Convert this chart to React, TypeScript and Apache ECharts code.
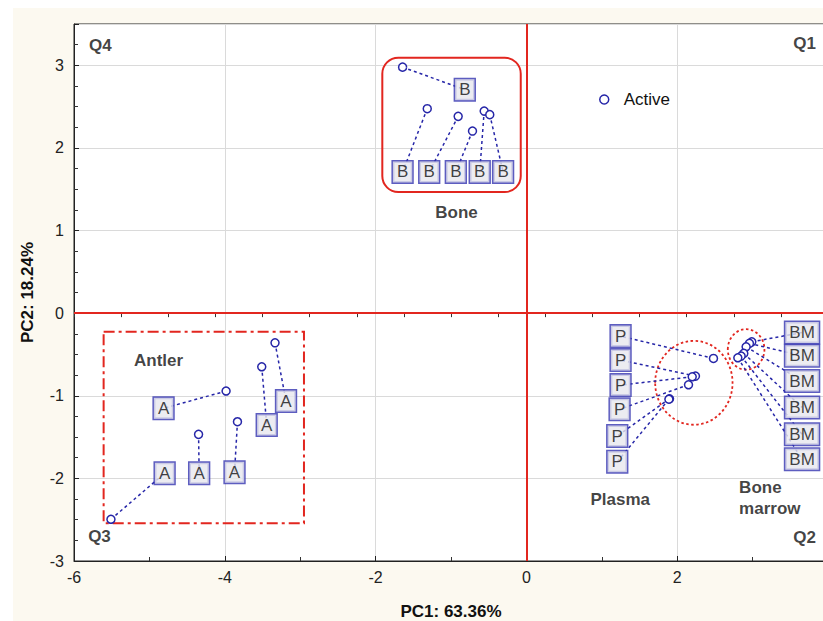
import React, { useEffect, useRef } from "react";
import * as echarts from "echarts";

// ---- Data ----
const bonePoints = [[-1.642, 2.978], [-1.315, 2.475], [-0.905, 2.382], [-0.715, 2.204], [-0.56, 2.446], [-0.486, 2.403]];
const boneLabelPos = [[-0.817, 2.705], [-1.642, 1.709], [-1.289, 1.709], [-0.936, 1.709], [-0.619, 1.709], [-0.309, 1.709]];

const antlerPoints = [[-3.334, -0.359], [-3.51, -0.649], [-3.983, -0.943], [-3.832, -1.314], [-4.348, -1.467], [-5.51, -2.495]];
const antlerLabelPos = [[-3.188, -1.064], [-3.444, -1.354], [-4.812, -1.152], [-3.871, -1.926], [-4.34, -1.938], [-4.798, -1.938]];

const plasmaPoints = [[2.481, -0.548], [2.242, -0.762], [2.199, -0.77], [2.15, -0.867], [1.898, -1.036], [1.89, -1.042]];
const plasmaLabelPos = [[1.249, -0.278], [1.249, -0.568], [1.249, -0.871], [1.236, -1.164], [1.205, -1.487], [1.205, -1.798]];

const marrowPoints = [[2.989, -0.347], [2.958, -0.366], [2.914, -0.407], [2.883, -0.487], [2.848, -0.52], [2.804, -0.54]];
const marrowLabelPos = [[3.656, -0.235], [3.656, -0.517], [3.656, -0.822], [3.656, -1.141], [3.656, -1.467], [3.656, -1.769]];

// region outlines: [xMin, xMax, yMin, yMax]
const boneRegion = [-1.911, -0.075, 1.466, 3.092];
const antlerRegion = [-5.607, -2.95, -2.543, -0.226];
// ellipses: [cx, cy, rx, ry]
const plasmaEllipse = [2.221, -0.843, 0.513, 0.508];
const marrowEllipse = [2.914, -0.439, 0.243, 0.245];

// text annotations: [x, y, text, align]
const annotations: [number, number, string, string][] = [
  [-4.878, -0.568, "Antler", "center"],
  [-0.927, 1.221, "Bone", "center"],
  [1.245, -2.261, "Plasma", "center"],
  [2.821, -2.243, "Bone\nmarrow", "left"],
  [-5.649, 3.241, "Q4", "center"],
  [3.841, 3.265, "Q1", "right"],
  [-5.662, -2.709, "Q3", "center"],
  [3.841, -2.721, "Q2", "right"],
];

const xName = "PC1: 63.36%";
const yName = "PC2: 18.24%";
const seriesName = "Active";

const FONT = "'Liberation Sans', Arial, sans-serif";
const BLUE = "#2626a8";
const RED = "#e2261f";

export default function App() {
  const ref = useRef<HTMLDivElement>(null);
  useEffect(() => {
    if (!ref.current) return;
    const chart = echarts.init(ref.current, undefined, { renderer: "svg" });

    const groups = [
      [bonePoints, boneLabelPos, "B"],
      [antlerPoints, antlerLabelPos, "A"],
      [plasmaPoints, plasmaLabelPos, "P"],
      [marrowPoints, marrowLabelPos, "BM"],
    ] as [number[][], number[][], string][];

    const allPoints: number[][] = [];
    const labelData: any[] = [];
    const lineData: any[] = [];
    groups.forEach(([pts, lbl, txt]) => {
      pts.forEach((p, i) => {
        allPoints.push(p);
        labelData.push({ value: lbl[i], name: txt });
        lineData.push({ coords: [p, lbl[i]] });
      });
    });

    const option: any = {
      animation: false,
      backgroundColor: "#fcf9f0",
      textStyle: { fontFamily: FONT },
      graphic: [
        { type: "rect", shape: { x: 0, y: 0, width: 13, height: 621 }, style: { fill: "#ffffff" }, silent: true },
        { type: "rect", shape: { x: 0, y: 0, width: 823, height: 8 }, style: { fill: "#ffffff" }, silent: true },
      ],
      legend: {
        data: [seriesName],
        left: 594,
        top: 86,
        itemWidth: 9,
        itemHeight: 9,
        icon: "circle",
        itemStyle: { color: "#ffffff", borderColor: BLUE, borderWidth: 1.5 },
        textStyle: { fontSize: 17, color: "#111", fontFamily: FONT, padding: [0, 0, 0, 10] },
      },
      grid: {
        left: 74,
        top: 24,
        width: 754,
        height: 537,
        show: true,
        backgroundColor: "#ffffff",
        borderColor: "#222",
        borderWidth: 1,
        containLabel: false,
        outerBoundsMode: "none",
      },
      xAxis: [
        {
          type: "value",
          min: -6,
          max: 4,
          interval: 2,
          position: "bottom",
          axisLine: { show: true, onZero: false, lineStyle: { color: "#222" } },
          axisTick: { show: true, inside: true, length: 5, lineStyle: { color: "#222" } },
          minorTick: { show: true, splitNumber: 2, length: 4, lineStyle: { color: "#333" } },
          splitLine: { show: true, lineStyle: { color: "#dadada", width: 1 } },
          axisLabel: { fontSize: 16, color: "#222", margin: 8, fontFamily: FONT },
          name: xName,
          nameLocation: "middle",
          nameGap: 42,
          nameTextStyle: { fontSize: 17, fontWeight: "bold", color: "#111", fontFamily: FONT },
        },
        {
          type: "value",
          min: 0,
          max: 16,
          interval: 1,
          position: "top",
          axisLine: { show: false },
          axisTick: { show: true, inside: true, length: 4, lineStyle: { color: "#333" } },
          axisLabel: { show: false },
          splitLine: { show: false },
        },
      ],
      yAxis: {
        type: "value",
        min: -3,
        max: 3.5,
        interval: 1,
        axisLine: { show: true, onZero: false, lineStyle: { color: "#222" } },
        axisTick: { show: true, inside: true, length: 5, lineStyle: { color: "#222" } },
        minorTick: { show: true, splitNumber: 4, length: 4, lineStyle: { color: "#333" } },
        splitLine: { show: true, lineStyle: { color: "#dadada", width: 1 } },
        axisLabel: {
          fontSize: 16,
          color: "#222",
          margin: 10,
          fontFamily: FONT,
          formatter: (v: number) => (Number.isInteger(v) ? String(v) : ""),
        },
        name: yName,
        nameLocation: "middle",
        nameGap: 38,
        nameRotate: 90,
        nameTextStyle: { fontSize: 17, fontWeight: "bold", color: "#111", fontFamily: FONT },
      },
      series: [
        {
          type: "scatter",
          name: "zero",
          data: [],
          z: 1,
          silent: true,
          markLine: {
            silent: true,
            symbol: "none",
            label: { show: false },
            lineStyle: { color: RED, width: 2, type: "solid" },
            data: [{ xAxis: 0 }, { yAxis: 0 }],
          },
        },
        {
          type: "custom",
          name: "regions",
          z: 1,
          silent: true,
          data: [
            [...boneRegion, 0],
            [...antlerRegion, 1],
          ],
          renderItem: (_p: any, api: any) => {
            const x0 = api.value(0), x1 = api.value(1), y0 = api.value(2), y1 = api.value(3);
            const kind = api.value(4);
            const a = api.coord([x0, y1]);
            const b = api.coord([x1, y0]);
            const style: any = { fill: "none", stroke: RED, lineWidth: 2 };
            if (kind === 1) style.lineDash = [11, 4, 3, 4];
            return {
              type: "rect",
              shape: { x: a[0], y: a[1], width: b[0] - a[0], height: b[1] - a[1], r: kind === 0 ? 16 : 0 },
              style,
            };
          },
        },
        {
          type: "custom",
          name: "ellipses",
          z: 1,
          silent: true,
          data: [plasmaEllipse, marrowEllipse],
          renderItem: (_p: any, api: any) => {
            const c = api.coord([api.value(0), api.value(1)]);
            const s = api.size([api.value(2), api.value(3)]);
            return {
              type: "ellipse",
              shape: { cx: c[0], cy: c[1], rx: s[0], ry: s[1] },
              style: { fill: "none", stroke: RED, lineWidth: 1.8, lineDash: [2.5, 2.5] },
            };
          },
        },
        {
          type: "lines",
          name: "links",
          coordinateSystem: "cartesian2d",
          z: 2,
          silent: true,
          data: lineData,
          lineStyle: { color: BLUE, width: 1.5, type: [3, 3], opacity: 1 },
        },
        {
          type: "scatter",
          name: seriesName,
          z: 3,
          symbol: "circle",
          symbolSize: 8,
          data: allPoints,
          itemStyle: { color: "#ffffff", borderColor: BLUE, borderWidth: 1.5, opacity: 1 },
          emphasis: { disabled: true },
        },
        {
          type: "scatter",
          name: "labels",
          z: 4,
          symbolSize: 1,
          silent: true,
          itemStyle: { color: "transparent" },
          data: labelData,
          label: {
            show: true,
            position: "inside",
            formatter: "{b}",
            fontFamily: FONT,
            fontSize: 17,
            lineHeight: 18,
            color: "#111",
            backgroundColor: "#e7e7ed",
            borderColor: "#3434b0",
            borderWidth: 1.5,
            padding: [2, 4, 1, 4],
          },
          emphasis: { disabled: true },
        },
        {
          type: "scatter",
          name: "notes",
          z: 4,
          symbolSize: 1,
          silent: true,
          itemStyle: { color: "transparent" },
          data: annotations.map(([x, y, t, al]) => ({ value: [x, y], name: t, label: { align: al } })),
          label: {
            show: true,
            position: "inside",
            formatter: "{b}",
            fontFamily: FONT,
            fontSize: 17,
            fontWeight: "bold",
            lineHeight: 21,
            color: "#111",
          },
          emphasis: { disabled: true },
        },
      ],
    };

    chart.setOption(option);
    return () => chart.dispose();
  }, []);

  return <div ref={ref} style={{ position: "fixed", left: 0, top: 0, width: 823, height: 621 }} />;
}
